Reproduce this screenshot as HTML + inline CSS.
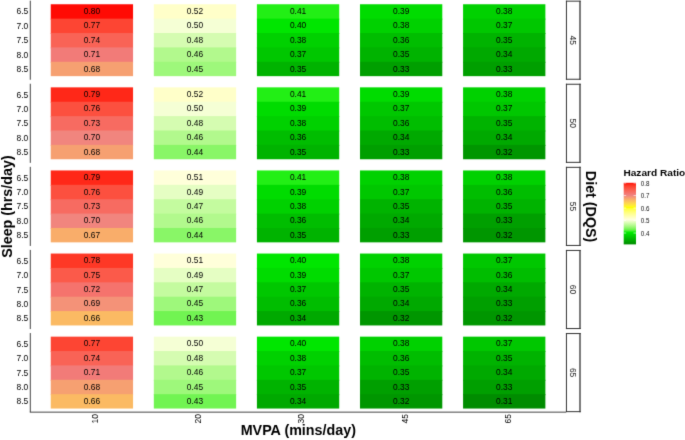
<!DOCTYPE html><html><head><meta charset="utf-8"><style>html,body{margin:0;padding:0;background:#fff;width:685px;height:440px;overflow:hidden}#w{width:685px;height:440px}svg{display:block}text{font-family:"Liberation Sans",sans-serif}</style></head><body>
<div id="w">
<svg width="685" height="440" viewBox="0 0 685 440">
<defs><filter id="bl" filterUnits="userSpaceOnUse" x="-10" y="-10" width="705" height="460" color-interpolation-filters="sRGB"><feConvolveMatrix order="3" kernelMatrix="0.01134 0.08382 0.01134 0.08382 0.61935 0.08382 0.01134 0.08382 0.01134" edgeMode="duplicate" preserveAlpha="true"/></filter></defs>
<g filter="url(#bl)">
<rect x="-10" y="-10" width="705" height="460" fill="#fff"/>
<rect x="50.75" y="4.25" width="82.30" height="15.38" fill="#ff0b04"/>
<rect x="50.75" y="18.63" width="82.30" height="15.38" fill="#fd4533"/>
<rect x="50.75" y="33.01" width="82.30" height="15.38" fill="#f96356"/>
<rect x="50.75" y="47.39" width="82.30" height="15.38" fill="#f27b78"/>
<rect x="50.75" y="61.77" width="82.30" height="14.38" fill="#f6a071"/>
<rect x="153.83" y="4.25" width="82.30" height="15.38" fill="#ffffc9"/>
<rect x="153.83" y="18.63" width="82.30" height="15.38" fill="#f5ffd5"/>
<rect x="153.83" y="33.01" width="82.30" height="15.38" fill="#d5fcb1"/>
<rect x="153.83" y="47.39" width="82.30" height="15.38" fill="#b2f98d"/>
<rect x="153.83" y="61.77" width="82.30" height="14.38" fill="#9ef87b"/>
<rect x="256.91" y="4.25" width="82.30" height="15.38" fill="#22ef15"/>
<rect x="256.91" y="18.63" width="82.30" height="15.38" fill="#00e600"/>
<rect x="256.91" y="33.01" width="82.30" height="15.38" fill="#00d100"/>
<rect x="256.91" y="47.39" width="82.30" height="15.38" fill="#00c700"/>
<rect x="256.91" y="61.77" width="82.30" height="14.38" fill="#00b300"/>
<rect x="359.99" y="4.25" width="82.30" height="15.38" fill="#00dc00"/>
<rect x="359.99" y="18.63" width="82.30" height="15.38" fill="#00d100"/>
<rect x="359.99" y="33.01" width="82.30" height="15.38" fill="#00bd00"/>
<rect x="359.99" y="47.39" width="82.30" height="15.38" fill="#00b300"/>
<rect x="359.99" y="61.77" width="82.30" height="14.38" fill="#009f00"/>
<rect x="463.07" y="4.25" width="82.30" height="15.38" fill="#00d100"/>
<rect x="463.07" y="18.63" width="82.30" height="15.38" fill="#00c700"/>
<rect x="463.07" y="33.01" width="82.30" height="15.38" fill="#00b300"/>
<rect x="463.07" y="47.39" width="82.30" height="15.38" fill="#00a900"/>
<rect x="463.07" y="61.77" width="82.30" height="14.38" fill="#009f00"/>
<text transform="translate(91.90,13.99) scale(0.955,1)" font-size="8.8" fill="#000" text-anchor="middle">0.80</text>
<text transform="translate(91.90,28.37) scale(0.955,1)" font-size="8.8" fill="#000" text-anchor="middle">0.77</text>
<text transform="translate(91.90,42.75) scale(0.955,1)" font-size="8.8" fill="#000" text-anchor="middle">0.74</text>
<text transform="translate(91.90,57.13) scale(0.955,1)" font-size="8.8" fill="#000" text-anchor="middle">0.71</text>
<text transform="translate(91.90,71.51) scale(0.955,1)" font-size="8.8" fill="#000" text-anchor="middle">0.68</text>
<text transform="translate(194.98,13.99) scale(0.955,1)" font-size="8.8" fill="#000" text-anchor="middle">0.52</text>
<text transform="translate(194.98,28.37) scale(0.955,1)" font-size="8.8" fill="#000" text-anchor="middle">0.50</text>
<text transform="translate(194.98,42.75) scale(0.955,1)" font-size="8.8" fill="#000" text-anchor="middle">0.48</text>
<text transform="translate(194.98,57.13) scale(0.955,1)" font-size="8.8" fill="#000" text-anchor="middle">0.46</text>
<text transform="translate(194.98,71.51) scale(0.955,1)" font-size="8.8" fill="#000" text-anchor="middle">0.45</text>
<text transform="translate(298.06,13.99) scale(0.955,1)" font-size="8.8" fill="#000" text-anchor="middle">0.41</text>
<text transform="translate(298.06,28.37) scale(0.955,1)" font-size="8.8" fill="#000" text-anchor="middle">0.40</text>
<text transform="translate(298.06,42.75) scale(0.955,1)" font-size="8.8" fill="#000" text-anchor="middle">0.38</text>
<text transform="translate(298.06,57.13) scale(0.955,1)" font-size="8.8" fill="#000" text-anchor="middle">0.37</text>
<text transform="translate(298.06,71.51) scale(0.955,1)" font-size="8.8" fill="#000" text-anchor="middle">0.35</text>
<text transform="translate(401.14,13.99) scale(0.955,1)" font-size="8.8" fill="#000" text-anchor="middle">0.39</text>
<text transform="translate(401.14,28.37) scale(0.955,1)" font-size="8.8" fill="#000" text-anchor="middle">0.38</text>
<text transform="translate(401.14,42.75) scale(0.955,1)" font-size="8.8" fill="#000" text-anchor="middle">0.36</text>
<text transform="translate(401.14,57.13) scale(0.955,1)" font-size="8.8" fill="#000" text-anchor="middle">0.35</text>
<text transform="translate(401.14,71.51) scale(0.955,1)" font-size="8.8" fill="#000" text-anchor="middle">0.33</text>
<text transform="translate(504.22,13.99) scale(0.955,1)" font-size="8.8" fill="#000" text-anchor="middle">0.38</text>
<text transform="translate(504.22,28.37) scale(0.955,1)" font-size="8.8" fill="#000" text-anchor="middle">0.37</text>
<text transform="translate(504.22,42.75) scale(0.955,1)" font-size="8.8" fill="#000" text-anchor="middle">0.35</text>
<text transform="translate(504.22,57.13) scale(0.955,1)" font-size="8.8" fill="#000" text-anchor="middle">0.34</text>
<text transform="translate(504.22,71.51) scale(0.955,1)" font-size="8.8" fill="#000" text-anchor="middle">0.33</text>
<text transform="translate(28.30,14.47) scale(0.91,1)" font-size="9.3" fill="#000" text-anchor="end">6.5</text>
<text transform="translate(28.30,28.85) scale(0.91,1)" font-size="9.3" fill="#000" text-anchor="end">7.0</text>
<text transform="translate(28.30,43.23) scale(0.91,1)" font-size="9.3" fill="#000" text-anchor="end">7.5</text>
<text transform="translate(28.30,57.61) scale(0.91,1)" font-size="9.3" fill="#000" text-anchor="end">8.0</text>
<text transform="translate(28.30,71.99) scale(0.91,1)" font-size="9.3" fill="#000" text-anchor="end">8.5</text>
<line x1="30.3" y1="0.65" x2="30.3" y2="79.75" stroke="#444" stroke-width="1.0"/>
<line x1="566.45" y1="0.65" x2="566.45" y2="79.75" stroke="#333" stroke-width="1.0"/>
<line x1="580.0" y1="0.65" x2="580.0" y2="79.75" stroke="#333" stroke-width="1.3"/>
<line x1="565.95" y1="1.15" x2="580.65" y2="1.15" stroke="#333" stroke-width="1.0"/>
<line x1="565.95" y1="79.25" x2="580.65" y2="79.25" stroke="#333" stroke-width="1.0"/>
<text transform="translate(570.42,40.20) rotate(90) scale(0.91,1)" font-size="9.3" fill="#1a1a1a" text-anchor="middle">45</text>
<rect x="50.75" y="87.35" width="82.30" height="15.38" fill="#ff2818"/>
<rect x="50.75" y="101.73" width="82.30" height="15.38" fill="#fc503f"/>
<rect x="50.75" y="116.11" width="82.30" height="15.38" fill="#f76b61"/>
<rect x="50.75" y="130.49" width="82.30" height="15.38" fill="#f1857e"/>
<rect x="50.75" y="144.87" width="82.30" height="14.38" fill="#f6a071"/>
<rect x="153.83" y="87.35" width="82.30" height="15.38" fill="#ffffc9"/>
<rect x="153.83" y="101.73" width="82.30" height="15.38" fill="#f5ffd5"/>
<rect x="153.83" y="116.11" width="82.30" height="15.38" fill="#d5fcb1"/>
<rect x="153.83" y="130.49" width="82.30" height="15.38" fill="#b2f98d"/>
<rect x="153.83" y="144.87" width="82.30" height="14.38" fill="#89f667"/>
<rect x="256.91" y="87.35" width="82.30" height="15.38" fill="#22ef15"/>
<rect x="256.91" y="101.73" width="82.30" height="15.38" fill="#00dc00"/>
<rect x="256.91" y="116.11" width="82.30" height="15.38" fill="#00d100"/>
<rect x="256.91" y="130.49" width="82.30" height="15.38" fill="#00bd00"/>
<rect x="256.91" y="144.87" width="82.30" height="14.38" fill="#00b300"/>
<rect x="359.99" y="87.35" width="82.30" height="15.38" fill="#00dc00"/>
<rect x="359.99" y="101.73" width="82.30" height="15.38" fill="#00c700"/>
<rect x="359.99" y="116.11" width="82.30" height="15.38" fill="#00bd00"/>
<rect x="359.99" y="130.49" width="82.30" height="15.38" fill="#00a900"/>
<rect x="359.99" y="144.87" width="82.30" height="14.38" fill="#009f00"/>
<rect x="463.07" y="87.35" width="82.30" height="15.38" fill="#00d100"/>
<rect x="463.07" y="101.73" width="82.30" height="15.38" fill="#00c700"/>
<rect x="463.07" y="116.11" width="82.30" height="15.38" fill="#00b300"/>
<rect x="463.07" y="130.49" width="82.30" height="15.38" fill="#00a900"/>
<rect x="463.07" y="144.87" width="82.30" height="14.38" fill="#009600"/>
<text transform="translate(91.90,97.09) scale(0.955,1)" font-size="8.8" fill="#000" text-anchor="middle">0.79</text>
<text transform="translate(91.90,111.47) scale(0.955,1)" font-size="8.8" fill="#000" text-anchor="middle">0.76</text>
<text transform="translate(91.90,125.85) scale(0.955,1)" font-size="8.8" fill="#000" text-anchor="middle">0.73</text>
<text transform="translate(91.90,140.23) scale(0.955,1)" font-size="8.8" fill="#000" text-anchor="middle">0.70</text>
<text transform="translate(91.90,154.61) scale(0.955,1)" font-size="8.8" fill="#000" text-anchor="middle">0.68</text>
<text transform="translate(194.98,97.09) scale(0.955,1)" font-size="8.8" fill="#000" text-anchor="middle">0.52</text>
<text transform="translate(194.98,111.47) scale(0.955,1)" font-size="8.8" fill="#000" text-anchor="middle">0.50</text>
<text transform="translate(194.98,125.85) scale(0.955,1)" font-size="8.8" fill="#000" text-anchor="middle">0.48</text>
<text transform="translate(194.98,140.23) scale(0.955,1)" font-size="8.8" fill="#000" text-anchor="middle">0.46</text>
<text transform="translate(194.98,154.61) scale(0.955,1)" font-size="8.8" fill="#000" text-anchor="middle">0.44</text>
<text transform="translate(298.06,97.09) scale(0.955,1)" font-size="8.8" fill="#000" text-anchor="middle">0.41</text>
<text transform="translate(298.06,111.47) scale(0.955,1)" font-size="8.8" fill="#000" text-anchor="middle">0.39</text>
<text transform="translate(298.06,125.85) scale(0.955,1)" font-size="8.8" fill="#000" text-anchor="middle">0.38</text>
<text transform="translate(298.06,140.23) scale(0.955,1)" font-size="8.8" fill="#000" text-anchor="middle">0.36</text>
<text transform="translate(298.06,154.61) scale(0.955,1)" font-size="8.8" fill="#000" text-anchor="middle">0.35</text>
<text transform="translate(401.14,97.09) scale(0.955,1)" font-size="8.8" fill="#000" text-anchor="middle">0.39</text>
<text transform="translate(401.14,111.47) scale(0.955,1)" font-size="8.8" fill="#000" text-anchor="middle">0.37</text>
<text transform="translate(401.14,125.85) scale(0.955,1)" font-size="8.8" fill="#000" text-anchor="middle">0.36</text>
<text transform="translate(401.14,140.23) scale(0.955,1)" font-size="8.8" fill="#000" text-anchor="middle">0.34</text>
<text transform="translate(401.14,154.61) scale(0.955,1)" font-size="8.8" fill="#000" text-anchor="middle">0.33</text>
<text transform="translate(504.22,97.09) scale(0.955,1)" font-size="8.8" fill="#000" text-anchor="middle">0.38</text>
<text transform="translate(504.22,111.47) scale(0.955,1)" font-size="8.8" fill="#000" text-anchor="middle">0.37</text>
<text transform="translate(504.22,125.85) scale(0.955,1)" font-size="8.8" fill="#000" text-anchor="middle">0.35</text>
<text transform="translate(504.22,140.23) scale(0.955,1)" font-size="8.8" fill="#000" text-anchor="middle">0.34</text>
<text transform="translate(504.22,154.61) scale(0.955,1)" font-size="8.8" fill="#000" text-anchor="middle">0.32</text>
<text transform="translate(28.30,97.57) scale(0.91,1)" font-size="9.3" fill="#000" text-anchor="end">6.5</text>
<text transform="translate(28.30,111.95) scale(0.91,1)" font-size="9.3" fill="#000" text-anchor="end">7.0</text>
<text transform="translate(28.30,126.33) scale(0.91,1)" font-size="9.3" fill="#000" text-anchor="end">7.5</text>
<text transform="translate(28.30,140.71) scale(0.91,1)" font-size="9.3" fill="#000" text-anchor="end">8.0</text>
<text transform="translate(28.30,155.09) scale(0.91,1)" font-size="9.3" fill="#000" text-anchor="end">8.5</text>
<line x1="30.3" y1="83.75" x2="30.3" y2="162.85" stroke="#444" stroke-width="1.0"/>
<line x1="566.45" y1="83.75" x2="566.45" y2="162.85" stroke="#333" stroke-width="1.0"/>
<line x1="580.0" y1="83.75" x2="580.0" y2="162.85" stroke="#333" stroke-width="1.3"/>
<line x1="565.95" y1="84.25" x2="580.65" y2="84.25" stroke="#333" stroke-width="1.0"/>
<line x1="565.95" y1="162.35" x2="580.65" y2="162.35" stroke="#333" stroke-width="1.0"/>
<text transform="translate(570.42,123.30) rotate(90) scale(0.91,1)" font-size="9.3" fill="#1a1a1a" text-anchor="middle">50</text>
<rect x="50.75" y="170.45" width="82.30" height="15.38" fill="#ff2818"/>
<rect x="50.75" y="184.83" width="82.30" height="15.38" fill="#fc503f"/>
<rect x="50.75" y="199.21" width="82.30" height="15.38" fill="#f76b61"/>
<rect x="50.75" y="213.59" width="82.30" height="15.38" fill="#f1857e"/>
<rect x="50.75" y="227.97" width="82.30" height="14.38" fill="#f9ad6a"/>
<rect x="153.83" y="170.45" width="82.30" height="15.38" fill="#ffffda"/>
<rect x="153.83" y="184.83" width="82.30" height="15.38" fill="#e5fec3"/>
<rect x="153.83" y="199.21" width="82.30" height="15.38" fill="#c4fb9f"/>
<rect x="153.83" y="213.59" width="82.30" height="15.38" fill="#b2f98d"/>
<rect x="153.83" y="227.97" width="82.30" height="14.38" fill="#89f667"/>
<rect x="256.91" y="170.45" width="82.30" height="15.38" fill="#22ef15"/>
<rect x="256.91" y="184.83" width="82.30" height="15.38" fill="#00dc00"/>
<rect x="256.91" y="199.21" width="82.30" height="15.38" fill="#00d100"/>
<rect x="256.91" y="213.59" width="82.30" height="15.38" fill="#00bd00"/>
<rect x="256.91" y="227.97" width="82.30" height="14.38" fill="#00b300"/>
<rect x="359.99" y="170.45" width="82.30" height="15.38" fill="#00d100"/>
<rect x="359.99" y="184.83" width="82.30" height="15.38" fill="#00c700"/>
<rect x="359.99" y="199.21" width="82.30" height="15.38" fill="#00b300"/>
<rect x="359.99" y="213.59" width="82.30" height="15.38" fill="#00a900"/>
<rect x="359.99" y="227.97" width="82.30" height="14.38" fill="#009f00"/>
<rect x="463.07" y="170.45" width="82.30" height="15.38" fill="#00d100"/>
<rect x="463.07" y="184.83" width="82.30" height="15.38" fill="#00bd00"/>
<rect x="463.07" y="199.21" width="82.30" height="15.38" fill="#00b300"/>
<rect x="463.07" y="213.59" width="82.30" height="15.38" fill="#009f00"/>
<rect x="463.07" y="227.97" width="82.30" height="14.38" fill="#009600"/>
<text transform="translate(91.90,180.19) scale(0.955,1)" font-size="8.8" fill="#000" text-anchor="middle">0.79</text>
<text transform="translate(91.90,194.57) scale(0.955,1)" font-size="8.8" fill="#000" text-anchor="middle">0.76</text>
<text transform="translate(91.90,208.95) scale(0.955,1)" font-size="8.8" fill="#000" text-anchor="middle">0.73</text>
<text transform="translate(91.90,223.33) scale(0.955,1)" font-size="8.8" fill="#000" text-anchor="middle">0.70</text>
<text transform="translate(91.90,237.71) scale(0.955,1)" font-size="8.8" fill="#000" text-anchor="middle">0.67</text>
<text transform="translate(194.98,180.19) scale(0.955,1)" font-size="8.8" fill="#000" text-anchor="middle">0.51</text>
<text transform="translate(194.98,194.57) scale(0.955,1)" font-size="8.8" fill="#000" text-anchor="middle">0.49</text>
<text transform="translate(194.98,208.95) scale(0.955,1)" font-size="8.8" fill="#000" text-anchor="middle">0.47</text>
<text transform="translate(194.98,223.33) scale(0.955,1)" font-size="8.8" fill="#000" text-anchor="middle">0.46</text>
<text transform="translate(194.98,237.71) scale(0.955,1)" font-size="8.8" fill="#000" text-anchor="middle">0.44</text>
<text transform="translate(298.06,180.19) scale(0.955,1)" font-size="8.8" fill="#000" text-anchor="middle">0.41</text>
<text transform="translate(298.06,194.57) scale(0.955,1)" font-size="8.8" fill="#000" text-anchor="middle">0.39</text>
<text transform="translate(298.06,208.95) scale(0.955,1)" font-size="8.8" fill="#000" text-anchor="middle">0.38</text>
<text transform="translate(298.06,223.33) scale(0.955,1)" font-size="8.8" fill="#000" text-anchor="middle">0.36</text>
<text transform="translate(298.06,237.71) scale(0.955,1)" font-size="8.8" fill="#000" text-anchor="middle">0.35</text>
<text transform="translate(401.14,180.19) scale(0.955,1)" font-size="8.8" fill="#000" text-anchor="middle">0.38</text>
<text transform="translate(401.14,194.57) scale(0.955,1)" font-size="8.8" fill="#000" text-anchor="middle">0.37</text>
<text transform="translate(401.14,208.95) scale(0.955,1)" font-size="8.8" fill="#000" text-anchor="middle">0.35</text>
<text transform="translate(401.14,223.33) scale(0.955,1)" font-size="8.8" fill="#000" text-anchor="middle">0.34</text>
<text transform="translate(401.14,237.71) scale(0.955,1)" font-size="8.8" fill="#000" text-anchor="middle">0.33</text>
<text transform="translate(504.22,180.19) scale(0.955,1)" font-size="8.8" fill="#000" text-anchor="middle">0.38</text>
<text transform="translate(504.22,194.57) scale(0.955,1)" font-size="8.8" fill="#000" text-anchor="middle">0.36</text>
<text transform="translate(504.22,208.95) scale(0.955,1)" font-size="8.8" fill="#000" text-anchor="middle">0.35</text>
<text transform="translate(504.22,223.33) scale(0.955,1)" font-size="8.8" fill="#000" text-anchor="middle">0.33</text>
<text transform="translate(504.22,237.71) scale(0.955,1)" font-size="8.8" fill="#000" text-anchor="middle">0.32</text>
<text transform="translate(28.30,180.67) scale(0.91,1)" font-size="9.3" fill="#000" text-anchor="end">6.5</text>
<text transform="translate(28.30,195.05) scale(0.91,1)" font-size="9.3" fill="#000" text-anchor="end">7.0</text>
<text transform="translate(28.30,209.43) scale(0.91,1)" font-size="9.3" fill="#000" text-anchor="end">7.5</text>
<text transform="translate(28.30,223.81) scale(0.91,1)" font-size="9.3" fill="#000" text-anchor="end">8.0</text>
<text transform="translate(28.30,238.19) scale(0.91,1)" font-size="9.3" fill="#000" text-anchor="end">8.5</text>
<line x1="30.3" y1="166.85" x2="30.3" y2="245.95" stroke="#444" stroke-width="1.0"/>
<line x1="566.45" y1="166.85" x2="566.45" y2="245.95" stroke="#333" stroke-width="1.0"/>
<line x1="580.0" y1="166.85" x2="580.0" y2="245.95" stroke="#333" stroke-width="1.3"/>
<line x1="565.95" y1="167.35" x2="580.65" y2="167.35" stroke="#333" stroke-width="1.0"/>
<line x1="565.95" y1="245.45" x2="580.65" y2="245.45" stroke="#333" stroke-width="1.0"/>
<text transform="translate(570.42,206.40) rotate(90) scale(0.91,1)" font-size="9.3" fill="#1a1a1a" text-anchor="middle">55</text>
<rect x="50.75" y="253.55" width="82.30" height="15.38" fill="#fe3826"/>
<rect x="50.75" y="267.93" width="82.30" height="15.38" fill="#fb5a4a"/>
<rect x="50.75" y="282.31" width="82.30" height="15.38" fill="#f5736d"/>
<rect x="50.75" y="296.69" width="82.30" height="15.38" fill="#f49278"/>
<rect x="50.75" y="311.07" width="82.30" height="14.38" fill="#fbba63"/>
<rect x="153.83" y="253.55" width="82.30" height="15.38" fill="#ffffda"/>
<rect x="153.83" y="267.93" width="82.30" height="15.38" fill="#e5fec3"/>
<rect x="153.83" y="282.31" width="82.30" height="15.38" fill="#c4fb9f"/>
<rect x="153.83" y="296.69" width="82.30" height="15.38" fill="#9ef87b"/>
<rect x="153.83" y="311.07" width="82.30" height="14.38" fill="#71f452"/>
<rect x="256.91" y="253.55" width="82.30" height="15.38" fill="#00e600"/>
<rect x="256.91" y="267.93" width="82.30" height="15.38" fill="#00dc00"/>
<rect x="256.91" y="282.31" width="82.30" height="15.38" fill="#00c700"/>
<rect x="256.91" y="296.69" width="82.30" height="15.38" fill="#00bd00"/>
<rect x="256.91" y="311.07" width="82.30" height="14.38" fill="#00a900"/>
<rect x="359.99" y="253.55" width="82.30" height="15.38" fill="#00d100"/>
<rect x="359.99" y="267.93" width="82.30" height="15.38" fill="#00c700"/>
<rect x="359.99" y="282.31" width="82.30" height="15.38" fill="#00b300"/>
<rect x="359.99" y="296.69" width="82.30" height="15.38" fill="#00a900"/>
<rect x="359.99" y="311.07" width="82.30" height="14.38" fill="#009600"/>
<rect x="463.07" y="253.55" width="82.30" height="15.38" fill="#00c700"/>
<rect x="463.07" y="267.93" width="82.30" height="15.38" fill="#00bd00"/>
<rect x="463.07" y="282.31" width="82.30" height="15.38" fill="#00a900"/>
<rect x="463.07" y="296.69" width="82.30" height="15.38" fill="#009f00"/>
<rect x="463.07" y="311.07" width="82.30" height="14.38" fill="#009600"/>
<text transform="translate(91.90,263.29) scale(0.955,1)" font-size="8.8" fill="#000" text-anchor="middle">0.78</text>
<text transform="translate(91.90,277.67) scale(0.955,1)" font-size="8.8" fill="#000" text-anchor="middle">0.75</text>
<text transform="translate(91.90,292.05) scale(0.955,1)" font-size="8.8" fill="#000" text-anchor="middle">0.72</text>
<text transform="translate(91.90,306.43) scale(0.955,1)" font-size="8.8" fill="#000" text-anchor="middle">0.69</text>
<text transform="translate(91.90,320.81) scale(0.955,1)" font-size="8.8" fill="#000" text-anchor="middle">0.66</text>
<text transform="translate(194.98,263.29) scale(0.955,1)" font-size="8.8" fill="#000" text-anchor="middle">0.51</text>
<text transform="translate(194.98,277.67) scale(0.955,1)" font-size="8.8" fill="#000" text-anchor="middle">0.49</text>
<text transform="translate(194.98,292.05) scale(0.955,1)" font-size="8.8" fill="#000" text-anchor="middle">0.47</text>
<text transform="translate(194.98,306.43) scale(0.955,1)" font-size="8.8" fill="#000" text-anchor="middle">0.45</text>
<text transform="translate(194.98,320.81) scale(0.955,1)" font-size="8.8" fill="#000" text-anchor="middle">0.43</text>
<text transform="translate(298.06,263.29) scale(0.955,1)" font-size="8.8" fill="#000" text-anchor="middle">0.40</text>
<text transform="translate(298.06,277.67) scale(0.955,1)" font-size="8.8" fill="#000" text-anchor="middle">0.39</text>
<text transform="translate(298.06,292.05) scale(0.955,1)" font-size="8.8" fill="#000" text-anchor="middle">0.37</text>
<text transform="translate(298.06,306.43) scale(0.955,1)" font-size="8.8" fill="#000" text-anchor="middle">0.36</text>
<text transform="translate(298.06,320.81) scale(0.955,1)" font-size="8.8" fill="#000" text-anchor="middle">0.34</text>
<text transform="translate(401.14,263.29) scale(0.955,1)" font-size="8.8" fill="#000" text-anchor="middle">0.38</text>
<text transform="translate(401.14,277.67) scale(0.955,1)" font-size="8.8" fill="#000" text-anchor="middle">0.37</text>
<text transform="translate(401.14,292.05) scale(0.955,1)" font-size="8.8" fill="#000" text-anchor="middle">0.35</text>
<text transform="translate(401.14,306.43) scale(0.955,1)" font-size="8.8" fill="#000" text-anchor="middle">0.34</text>
<text transform="translate(401.14,320.81) scale(0.955,1)" font-size="8.8" fill="#000" text-anchor="middle">0.32</text>
<text transform="translate(504.22,263.29) scale(0.955,1)" font-size="8.8" fill="#000" text-anchor="middle">0.37</text>
<text transform="translate(504.22,277.67) scale(0.955,1)" font-size="8.8" fill="#000" text-anchor="middle">0.36</text>
<text transform="translate(504.22,292.05) scale(0.955,1)" font-size="8.8" fill="#000" text-anchor="middle">0.34</text>
<text transform="translate(504.22,306.43) scale(0.955,1)" font-size="8.8" fill="#000" text-anchor="middle">0.33</text>
<text transform="translate(504.22,320.81) scale(0.955,1)" font-size="8.8" fill="#000" text-anchor="middle">0.32</text>
<text transform="translate(28.30,263.77) scale(0.91,1)" font-size="9.3" fill="#000" text-anchor="end">6.5</text>
<text transform="translate(28.30,278.15) scale(0.91,1)" font-size="9.3" fill="#000" text-anchor="end">7.0</text>
<text transform="translate(28.30,292.53) scale(0.91,1)" font-size="9.3" fill="#000" text-anchor="end">7.5</text>
<text transform="translate(28.30,306.91) scale(0.91,1)" font-size="9.3" fill="#000" text-anchor="end">8.0</text>
<text transform="translate(28.30,321.29) scale(0.91,1)" font-size="9.3" fill="#000" text-anchor="end">8.5</text>
<line x1="30.3" y1="249.95" x2="30.3" y2="329.05" stroke="#444" stroke-width="1.0"/>
<line x1="566.45" y1="249.95" x2="566.45" y2="329.05" stroke="#333" stroke-width="1.0"/>
<line x1="580.0" y1="249.95" x2="580.0" y2="329.05" stroke="#333" stroke-width="1.3"/>
<line x1="565.95" y1="250.45" x2="580.65" y2="250.45" stroke="#333" stroke-width="1.0"/>
<line x1="565.95" y1="328.55" x2="580.65" y2="328.55" stroke="#333" stroke-width="1.0"/>
<text transform="translate(570.42,289.50) rotate(90) scale(0.91,1)" font-size="9.3" fill="#1a1a1a" text-anchor="middle">60</text>
<rect x="50.75" y="336.65" width="82.30" height="15.38" fill="#fd4533"/>
<rect x="50.75" y="351.03" width="82.30" height="15.38" fill="#f96356"/>
<rect x="50.75" y="365.41" width="82.30" height="15.38" fill="#f27b78"/>
<rect x="50.75" y="379.79" width="82.30" height="15.38" fill="#f6a071"/>
<rect x="50.75" y="394.17" width="82.30" height="14.38" fill="#fbba63"/>
<rect x="153.83" y="336.65" width="82.30" height="15.38" fill="#f5ffd5"/>
<rect x="153.83" y="351.03" width="82.30" height="15.38" fill="#d5fcb1"/>
<rect x="153.83" y="365.41" width="82.30" height="15.38" fill="#b2f98d"/>
<rect x="153.83" y="379.79" width="82.30" height="15.38" fill="#9ef87b"/>
<rect x="153.83" y="394.17" width="82.30" height="14.38" fill="#71f452"/>
<rect x="256.91" y="336.65" width="82.30" height="15.38" fill="#00e600"/>
<rect x="256.91" y="351.03" width="82.30" height="15.38" fill="#00d100"/>
<rect x="256.91" y="365.41" width="82.30" height="15.38" fill="#00c700"/>
<rect x="256.91" y="379.79" width="82.30" height="15.38" fill="#00b300"/>
<rect x="256.91" y="394.17" width="82.30" height="14.38" fill="#00a900"/>
<rect x="359.99" y="336.65" width="82.30" height="15.38" fill="#00d100"/>
<rect x="359.99" y="351.03" width="82.30" height="15.38" fill="#00bd00"/>
<rect x="359.99" y="365.41" width="82.30" height="15.38" fill="#00b300"/>
<rect x="359.99" y="379.79" width="82.30" height="15.38" fill="#009f00"/>
<rect x="359.99" y="394.17" width="82.30" height="14.38" fill="#009600"/>
<rect x="463.07" y="336.65" width="82.30" height="15.38" fill="#00c700"/>
<rect x="463.07" y="351.03" width="82.30" height="15.38" fill="#00b300"/>
<rect x="463.07" y="365.41" width="82.30" height="15.38" fill="#00a900"/>
<rect x="463.07" y="379.79" width="82.30" height="15.38" fill="#009f00"/>
<rect x="463.07" y="394.17" width="82.30" height="14.38" fill="#008c00"/>
<text transform="translate(91.90,346.39) scale(0.955,1)" font-size="8.8" fill="#000" text-anchor="middle">0.77</text>
<text transform="translate(91.90,360.77) scale(0.955,1)" font-size="8.8" fill="#000" text-anchor="middle">0.74</text>
<text transform="translate(91.90,375.15) scale(0.955,1)" font-size="8.8" fill="#000" text-anchor="middle">0.71</text>
<text transform="translate(91.90,389.53) scale(0.955,1)" font-size="8.8" fill="#000" text-anchor="middle">0.68</text>
<text transform="translate(91.90,403.91) scale(0.955,1)" font-size="8.8" fill="#000" text-anchor="middle">0.66</text>
<text transform="translate(194.98,346.39) scale(0.955,1)" font-size="8.8" fill="#000" text-anchor="middle">0.50</text>
<text transform="translate(194.98,360.77) scale(0.955,1)" font-size="8.8" fill="#000" text-anchor="middle">0.48</text>
<text transform="translate(194.98,375.15) scale(0.955,1)" font-size="8.8" fill="#000" text-anchor="middle">0.46</text>
<text transform="translate(194.98,389.53) scale(0.955,1)" font-size="8.8" fill="#000" text-anchor="middle">0.45</text>
<text transform="translate(194.98,403.91) scale(0.955,1)" font-size="8.8" fill="#000" text-anchor="middle">0.43</text>
<text transform="translate(298.06,346.39) scale(0.955,1)" font-size="8.8" fill="#000" text-anchor="middle">0.40</text>
<text transform="translate(298.06,360.77) scale(0.955,1)" font-size="8.8" fill="#000" text-anchor="middle">0.38</text>
<text transform="translate(298.06,375.15) scale(0.955,1)" font-size="8.8" fill="#000" text-anchor="middle">0.37</text>
<text transform="translate(298.06,389.53) scale(0.955,1)" font-size="8.8" fill="#000" text-anchor="middle">0.35</text>
<text transform="translate(298.06,403.91) scale(0.955,1)" font-size="8.8" fill="#000" text-anchor="middle">0.34</text>
<text transform="translate(401.14,346.39) scale(0.955,1)" font-size="8.8" fill="#000" text-anchor="middle">0.38</text>
<text transform="translate(401.14,360.77) scale(0.955,1)" font-size="8.8" fill="#000" text-anchor="middle">0.36</text>
<text transform="translate(401.14,375.15) scale(0.955,1)" font-size="8.8" fill="#000" text-anchor="middle">0.35</text>
<text transform="translate(401.14,389.53) scale(0.955,1)" font-size="8.8" fill="#000" text-anchor="middle">0.33</text>
<text transform="translate(401.14,403.91) scale(0.955,1)" font-size="8.8" fill="#000" text-anchor="middle">0.32</text>
<text transform="translate(504.22,346.39) scale(0.955,1)" font-size="8.8" fill="#000" text-anchor="middle">0.37</text>
<text transform="translate(504.22,360.77) scale(0.955,1)" font-size="8.8" fill="#000" text-anchor="middle">0.35</text>
<text transform="translate(504.22,375.15) scale(0.955,1)" font-size="8.8" fill="#000" text-anchor="middle">0.34</text>
<text transform="translate(504.22,389.53) scale(0.955,1)" font-size="8.8" fill="#000" text-anchor="middle">0.33</text>
<text transform="translate(504.22,403.91) scale(0.955,1)" font-size="8.8" fill="#000" text-anchor="middle">0.31</text>
<text transform="translate(28.30,346.87) scale(0.91,1)" font-size="9.3" fill="#000" text-anchor="end">6.5</text>
<text transform="translate(28.30,361.25) scale(0.91,1)" font-size="9.3" fill="#000" text-anchor="end">7.0</text>
<text transform="translate(28.30,375.63) scale(0.91,1)" font-size="9.3" fill="#000" text-anchor="end">7.5</text>
<text transform="translate(28.30,390.01) scale(0.91,1)" font-size="9.3" fill="#000" text-anchor="end">8.0</text>
<text transform="translate(28.30,404.39) scale(0.91,1)" font-size="9.3" fill="#000" text-anchor="end">8.5</text>
<line x1="30.3" y1="333.05" x2="30.3" y2="412.15" stroke="#444" stroke-width="1.0"/>
<line x1="566.45" y1="333.05" x2="566.45" y2="412.15" stroke="#333" stroke-width="1.0"/>
<line x1="580.0" y1="333.05" x2="580.0" y2="412.15" stroke="#333" stroke-width="1.3"/>
<line x1="565.95" y1="333.55" x2="580.65" y2="333.55" stroke="#333" stroke-width="1.0"/>
<line x1="565.95" y1="411.65" x2="580.65" y2="411.65" stroke="#333" stroke-width="1.0"/>
<text transform="translate(570.42,372.60) rotate(90) scale(0.91,1)" font-size="9.3" fill="#1a1a1a" text-anchor="middle">65</text>
<line x1="29.8" y1="412.15" x2="566.0" y2="412.15" stroke="#444" stroke-width="1.0"/>
<text transform="translate(98.30,414.00) rotate(-90) scale(0.91,1)" font-size="9.3" fill="#000" text-anchor="end">10</text>
<text transform="translate(201.38,414.00) rotate(-90) scale(0.91,1)" font-size="9.3" fill="#000" text-anchor="end">20</text>
<text transform="translate(304.46,414.00) rotate(-90) scale(0.91,1)" font-size="9.3" fill="#000" text-anchor="end">30</text>
<text transform="translate(407.54,414.00) rotate(-90) scale(0.91,1)" font-size="9.3" fill="#000" text-anchor="end">45</text>
<text transform="translate(510.62,414.00) rotate(-90) scale(0.91,1)" font-size="9.3" fill="#000" text-anchor="end">65</text>
<text x="298.30" y="435.30" font-size="14.3" font-weight="bold" fill="#000" text-anchor="middle">MVPA (mins/day)</text>
<text transform="translate(11.60,206.55) rotate(-90)" font-size="14.3" font-weight="bold" fill="#000" text-anchor="middle">Sleep (hrs/day)</text>
<text transform="translate(585.70,206.60) rotate(90)" font-size="14.3" font-weight="bold" fill="#000" text-anchor="middle">Diet (DQS)</text>
<text transform="translate(623.40,176.40) scale(1.055,1)" font-size="9.6" font-weight="bold" fill="#000">Hazard Ratio</text>
<defs><linearGradient id="cb" x1="0" y1="0" x2="0" y2="1"><stop offset="0.0000" stop-color="#ff0000"/><stop offset="0.0167" stop-color="#ff2012"/><stop offset="0.0333" stop-color="#fe301f"/><stop offset="0.0500" stop-color="#fe3c2a"/><stop offset="0.0667" stop-color="#fd4634"/><stop offset="0.0833" stop-color="#fc4f3d"/><stop offset="0.1000" stop-color="#fb5747"/><stop offset="0.1167" stop-color="#fa5f51"/><stop offset="0.1333" stop-color="#f8665a"/><stop offset="0.1500" stop-color="#f76d63"/><stop offset="0.1667" stop-color="#f5736d"/><stop offset="0.1833" stop-color="#f27a76"/><stop offset="0.2000" stop-color="#f08080"/><stop offset="0.2167" stop-color="#f28b7b"/><stop offset="0.2333" stop-color="#f59776"/><stop offset="0.2500" stop-color="#f7a171"/><stop offset="0.2667" stop-color="#f9ac6b"/><stop offset="0.2833" stop-color="#fab764"/><stop offset="0.3000" stop-color="#fcc15e"/><stop offset="0.3167" stop-color="#fdcc56"/><stop offset="0.3333" stop-color="#fed64d"/><stop offset="0.3500" stop-color="#fee043"/><stop offset="0.3667" stop-color="#ffeb37"/><stop offset="0.3833" stop-color="#fff526"/><stop offset="0.4000" stop-color="#ffff00"/><stop offset="0.4167" stop-color="#ffff32"/><stop offset="0.4333" stop-color="#ffff4a"/><stop offset="0.4500" stop-color="#ffff5d"/><stop offset="0.4667" stop-color="#ffff6e"/><stop offset="0.4833" stop-color="#ffff7e"/><stop offset="0.5000" stop-color="#ffff8d"/><stop offset="0.5167" stop-color="#ffff9b"/><stop offset="0.5333" stop-color="#ffffa9"/><stop offset="0.5500" stop-color="#ffffb7"/><stop offset="0.5667" stop-color="#ffffc5"/><stop offset="0.5833" stop-color="#ffffd3"/><stop offset="0.6000" stop-color="#ffffe0"/><stop offset="0.6167" stop-color="#f2fed1"/><stop offset="0.6333" stop-color="#e5fec3"/><stop offset="0.6500" stop-color="#d7fdb4"/><stop offset="0.6667" stop-color="#c9fca5"/><stop offset="0.6833" stop-color="#bbfa97"/><stop offset="0.7000" stop-color="#acf987"/><stop offset="0.7167" stop-color="#9cf778"/><stop offset="0.7333" stop-color="#8af668"/><stop offset="0.7500" stop-color="#77f457"/><stop offset="0.7667" stop-color="#61f244"/><stop offset="0.7833" stop-color="#43f02d"/><stop offset="0.8000" stop-color="#00ee00"/><stop offset="0.8167" stop-color="#00e500"/><stop offset="0.8333" stop-color="#00dd00"/><stop offset="0.8500" stop-color="#00d400"/><stop offset="0.8667" stop-color="#00cc00"/><stop offset="0.8833" stop-color="#00c400"/><stop offset="0.9000" stop-color="#00bb00"/><stop offset="0.9167" stop-color="#00b300"/><stop offset="0.9333" stop-color="#00ab00"/><stop offset="0.9500" stop-color="#00a300"/><stop offset="0.9667" stop-color="#009b00"/><stop offset="0.9833" stop-color="#009300"/><stop offset="1.0000" stop-color="#008b00"/></linearGradient></defs>
<rect x="623.7" y="182.8" width="12.30" height="61.60" fill="url(#cb)"/>
<line x1="623.7" y1="183.05" x2="626.16" y2="183.05" stroke="#fff" stroke-width="0.6"/>
<line x1="633.54" y1="183.05" x2="636.0" y2="183.05" stroke="#fff" stroke-width="0.6"/>
<text transform="translate(640.70,185.88) scale(0.92,1)" font-size="6.8" fill="#111">0.8</text>
<line x1="623.7" y1="195.54" x2="626.16" y2="195.54" stroke="#fff" stroke-width="0.6"/>
<line x1="633.54" y1="195.54" x2="636.0" y2="195.54" stroke="#fff" stroke-width="0.6"/>
<text transform="translate(640.70,198.38) scale(0.92,1)" font-size="6.8" fill="#111">0.7</text>
<line x1="623.7" y1="208.04" x2="626.16" y2="208.04" stroke="#fff" stroke-width="0.6"/>
<line x1="633.54" y1="208.04" x2="636.0" y2="208.04" stroke="#fff" stroke-width="0.6"/>
<text transform="translate(640.70,210.87) scale(0.92,1)" font-size="6.8" fill="#111">0.6</text>
<line x1="623.7" y1="220.53" x2="626.16" y2="220.53" stroke="#fff" stroke-width="0.6"/>
<line x1="633.54" y1="220.53" x2="636.0" y2="220.53" stroke="#fff" stroke-width="0.6"/>
<text transform="translate(640.70,223.37) scale(0.92,1)" font-size="6.8" fill="#111">0.5</text>
<line x1="623.7" y1="233.03" x2="626.16" y2="233.03" stroke="#fff" stroke-width="0.6"/>
<line x1="633.54" y1="233.03" x2="636.0" y2="233.03" stroke="#fff" stroke-width="0.6"/>
<text transform="translate(640.70,235.86) scale(0.92,1)" font-size="6.8" fill="#111">0.4</text>
</g></svg></div></body></html>
